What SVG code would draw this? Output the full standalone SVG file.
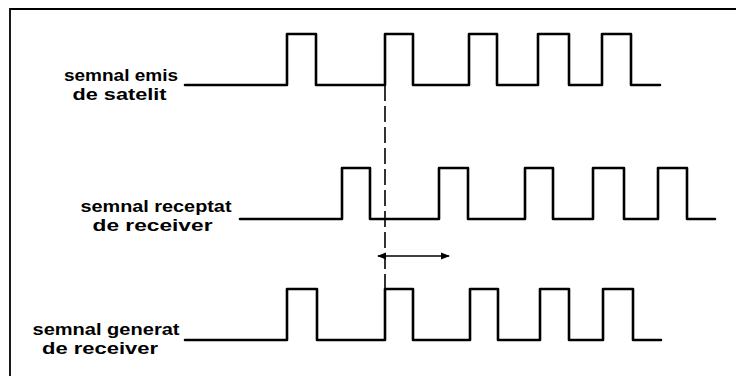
<svg xmlns="http://www.w3.org/2000/svg" width="736" height="376" viewBox="0 0 736 376">
<style>
.sig{fill:none;stroke:#000;stroke-width:2.6;stroke-linejoin:round;stroke-linecap:round}
.lbl{font-family:"Liberation Sans","DejaVu Sans",Arial,sans-serif;font-weight:bold;font-size:16.6px;fill:#000;text-anchor:middle}
.frame{fill:none;stroke:#000;stroke-width:1.8}
.dash{fill:none;stroke:#000;stroke-width:1.6;stroke-dasharray:16 5}
.arr{stroke:#000;stroke-width:1.6;fill:none}
</style>
<defs>
<marker id="ah" viewBox="0 0 10 10" refX="9" refY="5" markerWidth="9" markerHeight="9" markerUnits="userSpaceOnUse" orient="auto-start-reverse">
<path d="M0,1 L10,5 L0,9 Z" fill="#000"/>
</marker>
</defs>
<rect width="736" height="376" fill="#fff"/>
<path class="frame" d="M10,376 L10,9 L736,9"/>
<g id="satelit">
<path class="sig" d="M185,85 H287 V34 H316 V85 H385 V34 H413 V85 H469 V34 H497 V85 H538 V34 H569 V85 H602 V34 H631 V85 H660"/>
<text class="lbl" x="121" y="81" textLength="114" lengthAdjust="spacingAndGlyphs">semnal emis</text>
<text class="lbl" x="119.5" y="100" textLength="94" lengthAdjust="spacingAndGlyphs">de satelit</text>
</g>
<g id="receptat">
<path class="sig" d="M240,219 H342 V168 H370 V219 H439 V168 H468 V219 H525 V168 H553 V219 H593 V168 H624 V219 H658 V168 H687 V219 H715"/>
<text class="lbl" x="156" y="212" textLength="151" lengthAdjust="spacingAndGlyphs">semnal receptat</text>
<text class="lbl" x="152.5" y="231" textLength="120" lengthAdjust="spacingAndGlyphs">de receiver</text>
</g>
<g id="generat">
<path class="sig" d="M185,340 H287 V289 H317 V340 H385 V289 H413 V340 H470 V289 H498 V340 H540 V289 H569 V340 H603 V289 H633 V340 H661"/>
<text class="lbl" x="106" y="335" textLength="147" lengthAdjust="spacingAndGlyphs">semnal generat</text>
<text class="lbl" x="100" y="354" textLength="116" lengthAdjust="spacingAndGlyphs">de receiver</text>
</g>
<g id="connectors">
<path class="dash" d="M385,85 V289"/>
<path class="arr" d="M378,256 H449" marker-start="url(#ah)" marker-end="url(#ah)"/>
</g>
</svg>
